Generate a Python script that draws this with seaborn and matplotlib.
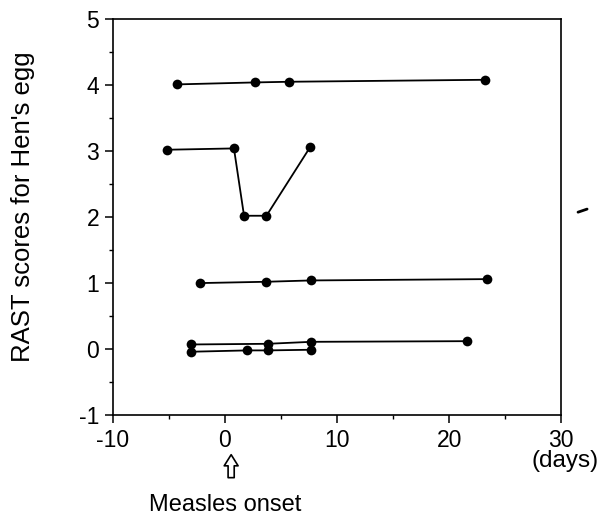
import matplotlib
matplotlib.use("Agg")
import matplotlib.pyplot as plt
from matplotlib.lines import Line2D
from matplotlib.ticker import MultipleLocator
import seaborn as sns
import pandas as pd

# Data (days relative to measles onset, RAST score)
s1_days = [-4.3, 2.7, 5.7, 23.2]
s1_rast = [4.01, 4.04, 4.05, 4.08]
s2_days = [-5.2, 0.8, 1.7, 3.7, 7.6]
s2_rast = [3.02, 3.04, 2.02, 2.02, 3.06]
s3_days = [-2.2, 3.7, 7.7, 23.4]
s3_rast = [1.00, 1.02, 1.04, 1.06]
s4_days = [-3.0, 3.8, 7.7, 21.6]
s4_rast = [0.07, 0.08, 0.11, 0.12]
s5_days = [-3.0, 2.0, 3.8, 7.7]
s5_rast = [-0.04, -0.02, -0.02, -0.01]

x_ticks = [-10, 0, 10, 20, 30]
y_ticks = [-1, 0, 1, 2, 3, 4, 5]
y_label = "RAST scores for Hen's egg"
x_unit = "(days)"
onset_label = "Measles onset"

series = [s1_days, s2_days, s3_days, s4_days, s5_days]
values = [s1_rast, s2_rast, s3_rast, s4_rast, s5_rast]
frames = []
for i, (d, v) in enumerate(zip(series, values)):
    frames.append(pd.DataFrame({"day": d, "rast": v, "patient": f"p{i}"}))
df = pd.concat(frames, ignore_index=True)

sns.set_style("ticks")
plt.rcParams["font.family"] = ["Liberation Sans", "DejaVu Sans"]
plt.rcParams["text.color"] = "black"
plt.rcParams["axes.labelcolor"] = "black"

fig = plt.figure(figsize=(6.04, 5.15), dpi=100)
ax = fig.add_axes([0.187, 0.194, 0.742, 0.769])

sns.lineplot(data=df, x="day", y="rast", hue="patient",
             palette=["black"] * len(series), marker="o", markersize=7,
             markeredgewidth=0, linewidth=1.3, sort=False, legend=False,
             estimator=None, ax=ax)

ax.set_xlim(-10, 30)
ax.set_ylim(-1, 5)
ax.set_xticks(x_ticks)
ax.set_yticks(y_ticks)
ax.set_xticklabels([str(t) for t in x_ticks])
ax.set_yticklabels([str(t) for t in y_ticks])
ax.xaxis.set_minor_locator(MultipleLocator(5))
ax.yaxis.set_minor_locator(MultipleLocator(0.5))
ax.tick_params(which="major", direction="out", length=5.5, width=1.1,
               labelsize=16.5, pad=4.5, colors="black")
ax.tick_params(which="minor", direction="out", length=3, width=1.0, colors="black")
for sp in ax.spines.values():
    sp.set_visible(True)
    sp.set_linewidth(1.2)
    sp.set_color("black")

ax.set_xlabel("")
ax.set_ylabel(y_label, fontsize=18.5, color="black")
ax.yaxis.set_label_coords(-0.174, 0.525)

ax.text(1.009, -0.116, x_unit, transform=ax.transAxes, ha="center", va="center",
        fontsize=17.5, color="black")
ax.annotate("", xy=(0.55, -0.100), xytext=(0.55, -0.158),
            xycoords=("data", "axes fraction"), textcoords=("data", "axes fraction"),
            arrowprops=dict(arrowstyle="simple,head_length=0.4,head_width=0.5,tail_width=0.22",
                            mutation_scale=20, shrinkA=0, shrinkB=0,
                            fc="white", ec="black", lw=1.2),
            annotation_clip=False)
ax.text(0, -0.226, onset_label, transform=ax.get_xaxis_transform(),
        ha="center", va="center", fontsize=17, color="black")

# small stray mark at right edge of the reference
fig.add_artist(Line2D([0.957, 0.972], [0.588, 0.594], color="black", lw=2))

fig.savefig("out.png", dpi=100)
